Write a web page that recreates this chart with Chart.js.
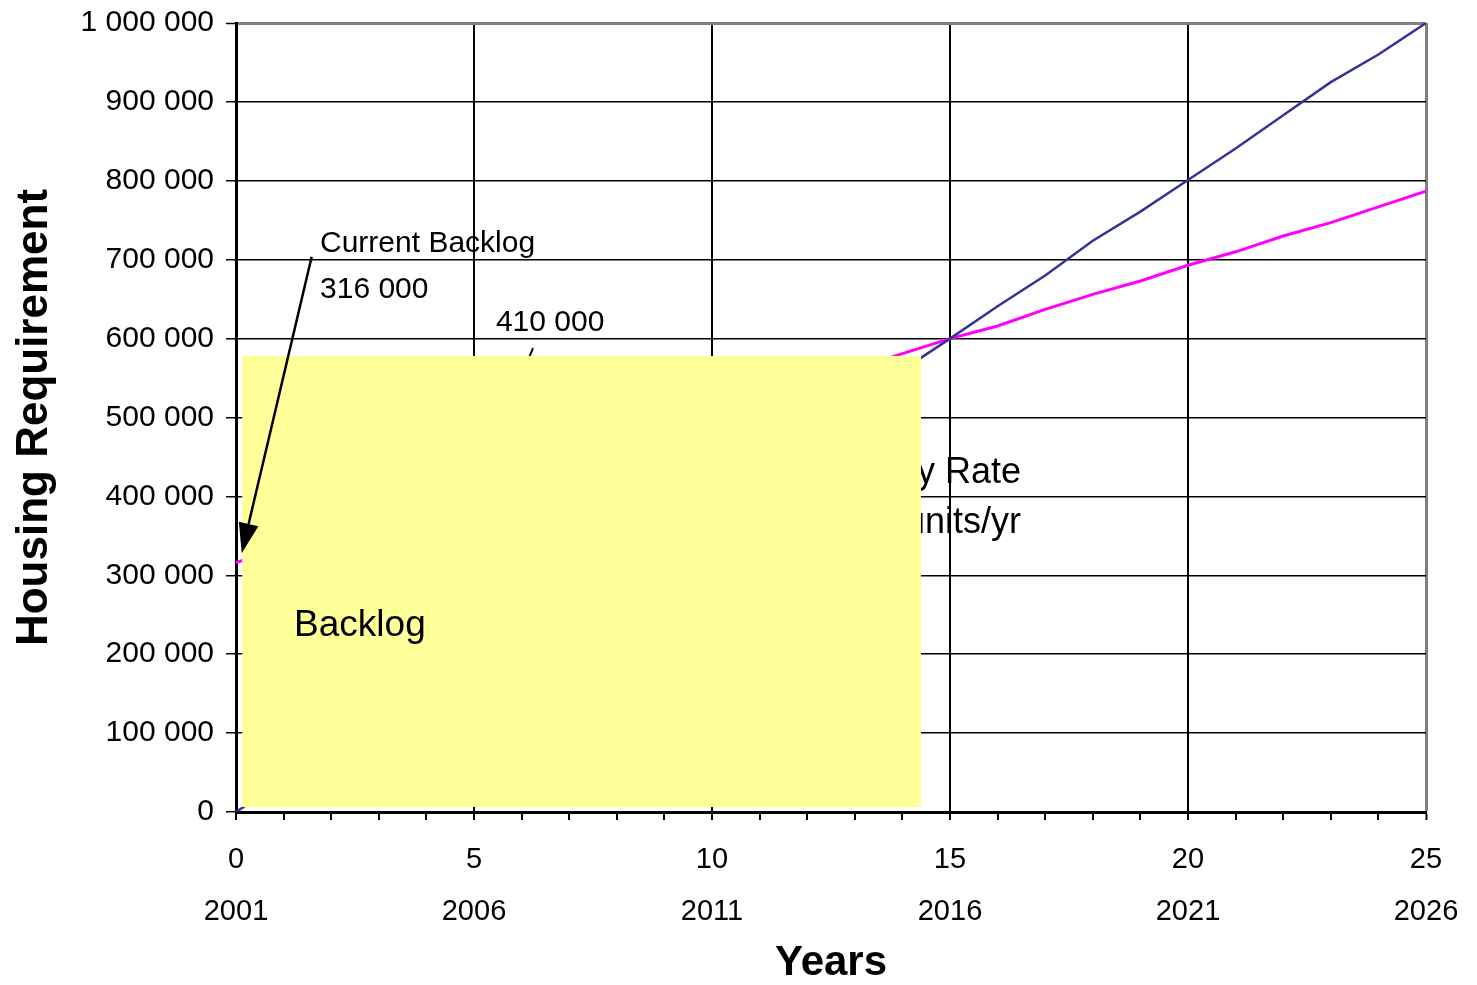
<!DOCTYPE html>
<html>
<head>
<meta charset="utf-8">
<script src="https://cdn.jsdelivr.net/npm/chart.js@4.4.1/dist/chart.umd.min.js"></script>
<style>
  html, body { margin: 0; padding: 0; background: #fff; }
  #wrap { width: 1477px; height: 985px; }
</style>
</head>
<body>
<div id="wrap"><canvas id="housingChart" width="1477" height="985"></canvas></div>
<script>
// years from 2001
const yearsFromStart = [0, 1, 2, 3, 4, 5, 6, 7, 8, 9, 10, 11, 12, 13, 14, 15, 16, 17, 18, 19, 20, 21, 22, 23, 24, 25];

// blue line (delivery at ~40 000 units/yr)
const deliveryRate = [0, 40000, 80000, 120000, 160000, 200000, 240000, 280000, 320000, 360000,
  400000, 440000, 480000, 520000, 560000, 600000, 641000, 680000, 724000, 761000,
  801000, 841000, 883000, 925000, 960000, 1000000];

// magenta line (housing requirement incl. backlog)
const housingNeed = [316000, 335000, 354000, 373000, 392000, 410000, 429000, 448000, 467000, 486000,
  505000, 524000, 543000, 562000, 581000, 600000, 616000, 637000, 656000, 673000,
  693000, 710000, 730000, 747000, 767000, 787000];

// tick labels
const xMajorTicks = [0, 5, 10, 15, 20, 25];
const xYearLabels = ['2001', '2006', '2011', '2016', '2021', '2026'];

const FONT = "'Liberation Sans', Arial, sans-serif";

const toPoints = vals => vals.map((v, i) => ({ x: yearsFromStart[i], y: v }));
const fmtThousands = v => String(v).replace(/\B(?=(\d{3})+(?!\d))/g, ' ');

// text boxes, arrows and the yellow box, placed in data units
const overlay = {
  id: 'overlay',
  afterDatasetsDraw(chart) {
    const { ctx, scales: { x, y } } = chart;
    const px = v => x.getPixelForValue(v);
    const py = v => y.getPixelForValue(v);
    ctx.save();
    ctx.fillStyle = '#000';
    ctx.strokeStyle = '#000';

    // text partly hidden by the box
    ctx.font = `36px ${FONT}`;
    ctx.textAlign = 'right';
    ctx.textBaseline = 'alphabetic';
    ctx.fillText('Delivery Rate', px(16.49), py(417000));
    ctx.fillText('40 000 units/yr', px(16.49), py(353600));

    // leader for 410 000
    ctx.lineWidth = 2;
    ctx.beginPath();
    ctx.moveTo(px(6.24), py(588000));
    ctx.lineTo(px(5), py(410000));
    ctx.stroke();

    // yellow box
    ctx.fillStyle = '#FFFF99';
    ctx.fillRect(px(0.13), py(578000), px(14.39) - px(0.13), py(6300) - py(578000));

    ctx.fillStyle = '#000';
    ctx.textAlign = 'left';
    ctx.font = `37px ${FONT}`;
    ctx.fillText('Backlog', px(1.22), py(223000));

    ctx.font = `30px ${FONT}`;
    ctx.fillText('Current Backlog', px(1.765), py(709800));
    ctx.fillText('316 000', px(1.765), py(651500));
    ctx.fillText('410 000', px(5.46), py(609600));

    // arrow to current backlog
    const sx = px(1.59), sy = py(703800);
    const tx = px(0.12), ty = py(328000);
    const ang = Math.atan2(ty - sy, tx - sx);
    const headLen = 30, headW = 10;
    const bx = tx - headLen * Math.cos(ang), by = ty - headLen * Math.sin(ang);
    ctx.lineWidth = 2.5;
    ctx.beginPath();
    ctx.moveTo(sx, sy);
    ctx.lineTo(bx, by);
    ctx.stroke();
    ctx.beginPath();
    ctx.moveTo(tx, ty);
    ctx.lineTo(bx + headW * Math.sin(ang), by - headW * Math.cos(ang));
    ctx.lineTo(bx - headW * Math.sin(ang), by + headW * Math.cos(ang));
    ctx.closePath();
    ctx.fill();
    ctx.restore();
  }
};

new Chart(document.getElementById('housingChart').getContext('2d'), {
  type: 'line',
  data: {
    datasets: [
      {
        label: 'Delivery',
        data: toPoints(deliveryRate),
        borderColor: '#333399',
        borderWidth: 2.5,
        pointRadius: 0,
        tension: 0,
        fill: false
      },
      {
        label: 'Requirement',
        data: toPoints(housingNeed),
        borderColor: '#FF00FF',
        borderWidth: 3,
        pointRadius: 0,
        tension: 0,
        fill: false
      }
    ]
  },
  options: {
    responsive: false,
    animation: false,
    layout: { padding: { left: 0, right: 51, top: 23, bottom: 0 } },
    plugins: { legend: { display: false }, tooltip: { enabled: false } },
    scales: {
      x: {
        type: 'linear',
        min: 0,
        max: 25,
        afterFit: s => { s.height = 173; },
        border: { color: '#000', width: 3 },
        grid: {
          color: c => c.tick.value === 25 ? '#808080' : (c.tick.value % 5 === 0 ? '#000' : 'rgba(0,0,0,0)'),
          lineWidth: c => c.tick.value === 25 ? 3 : 2,
          tickColor: '#000',
          tickWidth: 2,
          tickLength: 8
        },
        ticks: {
          stepSize: 1,
          autoSkip: false,
          maxRotation: 0,
          padding: 14,
          color: '#000',
          font: { family: FONT, size: 29, lineHeight: 1.79 },
          callback: v => {
            const i = xMajorTicks.indexOf(v);
            return i >= 0 ? [String(v), xYearLabels[i]] : '';
          }
        },
        title: {
          display: true,
          text: 'Years',
          color: '#000',
          font: { family: FONT, size: 42, weight: 'bold', lineHeight: 1.0 },
          padding: { top: 0, bottom: 1 }
        }
      },
      y: {
        min: 0,
        max: 1000000,
        afterFit: s => { s.width = 236; s.paddingTop = 10; s.paddingBottom = 10; },
        border: { color: '#000', width: 3 },
        grid: {
          color: c => c.tick.value === 1000000 ? '#808080' : '#000',
          lineWidth: c => c.tick.value === 1000000 ? 3 : 1.5,
          tickColor: '#000',
          tickWidth: 1.5,
          tickLength: 10
        },
        ticks: {
          stepSize: 100000,
          padding: 12,
          color: '#000',
          font: { family: FONT, size: 30 },
          callback: v => fmtThousands(v)
        },
        title: {
          display: true,
          text: 'Housing Requirement',
          color: '#000',
          font: { family: FONT, size: 44, weight: 'bold', lineHeight: 1.2 },
          padding: { top: 8, bottom: 0 }
        }
      }
    }
  },
  plugins: [overlay]
});
</script>
</body>
</html>
